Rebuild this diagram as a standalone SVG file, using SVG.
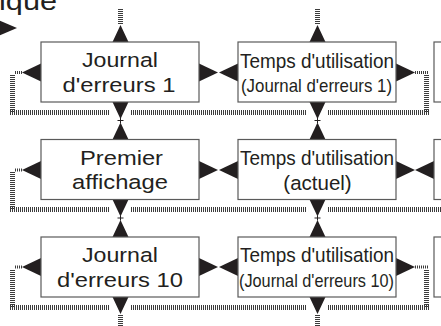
<svg xmlns="http://www.w3.org/2000/svg" width="441" height="326" viewBox="0 0 441 326">
  <style>
    .box{fill:#fff;stroke:#5a5a5a;stroke-width:1.2}
    .lbl{font-family:"Liberation Sans",Arial,sans-serif;fill:#231f20;text-anchor:middle}
    .big{font-size:20.5px}
    .tall{font-size:21px}
    .mid{font-size:19px}
    .head{fill:#231f20}
    .dots{fill:none;stroke:#3c3c3c;stroke-width:5;stroke-dasharray:1 1}
    .lead{fill:none;stroke:#3c3c3c;stroke-width:3;stroke-dasharray:1 1}
    .thin{fill:none;stroke:#231f20;stroke-width:1}
  </style>
  <defs>
    <!-- arrowheads: base at origin -->
    <path id="hr" class="head" d="M0,-9 L19,0 L0,9Z"/>
    <path id="hl" class="head" d="M0,-9 L-19,0 L0,9Z"/>
    <path id="vu" class="head" d="M-8,0 L0,-17 L8,0Z"/>
    <path id="vd" class="head" d="M-8,0 L0,17 L8,0Z"/>
  </defs>

  <!-- header fragment -->
  <g id="header">
    <text class="lbl" x="28" y="10" font-size="25" textLength="58" lengthAdjust="spacingAndGlyphs">ique</text>
    <path class="head" d="M-2,20 L17,28 L-2,36Z"/>
  </g>

  <!-- connectors -->
  <g id="connectors">
    <!-- top inputs -->
    <path class="dots" d="M120.5,9 V25 M317.5,9 V25"/>
    <use href="#vu" x="120.5" y="42"/>
    <use href="#vu" x="317.5" y="42"/>

    <!-- row 1 horizontal links -->
    <use href="#hr" x="199" y="72.5"/>
    <use href="#hl" x="238" y="72.5"/>
    <use href="#hl" x="41" y="72.5"/>
    <use href="#hr" x="396" y="72.5"/>
    <!-- row 1 wrap loop -->
    <path class="lead" d="M15,72.5 H22 M415,72.5 H428"/>
    <path class="dots" d="M12.5,75 V112 M426.5,75 V112"/>
    <path class="dots" d="M10,112.5 H110 M131,112.5 H307 M328,112.5 H429"/>

    <!-- row 1 to row 2 -->
    <use href="#vd" x="120.5" y="102"/>
    <use href="#vu" x="120.5" y="139.5"/>
    <use href="#vd" x="317.5" y="102"/>
    <use href="#vu" x="317.5" y="139.5"/>
    <path class="thin" d="M120.5,118 V123 M117.5,120.5 H123.5 M317.5,118 V123 M314.5,120.5 H320.5"/>

    <!-- row 2 horizontal links -->
    <use href="#hr" x="199" y="170"/>
    <use href="#hl" x="238" y="170"/>
    <use href="#hl" x="41" y="170"/>
    <use href="#hr" x="396" y="170"/>
    <use href="#hl" x="434" y="170"/>
    <path class="lead" d="M15,170 H22"/>
    <path class="dots" d="M12.5,172 V209"/>
    <path class="dots" d="M10,209.5 H110 M131,209.5 H307 M328,209.5 H441"/>

    <!-- row 2 to row 3 -->
    <use href="#vd" x="120.5" y="199.5"/>
    <use href="#vu" x="120.5" y="237"/>
    <use href="#vd" x="317.5" y="199.5"/>
    <use href="#vu" x="317.5" y="237"/>
    <path class="thin" d="M120.5,215.5 V220.5 M117.5,218 H123.5 M317.5,215.5 V220.5 M314.5,218 H320.5"/>

    <!-- row 3 horizontal links -->
    <use href="#hr" x="199" y="267"/>
    <use href="#hl" x="238" y="267"/>
    <use href="#hl" x="41" y="267"/>
    <use href="#hr" x="396" y="267"/>
    <path class="lead" d="M15,267 H22 M415,267 H428"/>
    <path class="dots" d="M12.5,270 V307 M426.5,270 V307"/>
    <path class="dots" d="M10,307.5 H110 M131,307.5 H307 M328,307.5 H429"/>

    <!-- bottom outputs -->
    <use href="#vd" x="120.5" y="297"/>
    <use href="#vd" x="317.5" y="297"/>
    <path class="dots" d="M120.5,315 V326 M317.5,315 V326"/>
  </g>

  <!-- row 1 -->
  <g id="journal-1">
    <rect class="box" x="41" y="42" width="158" height="60"/>
    <text class="lbl big" x="120" y="67" textLength="76" lengthAdjust="spacingAndGlyphs">Journal</text>
    <text class="lbl big" x="119" y="92" textLength="113" lengthAdjust="spacingAndGlyphs">d'erreurs 1</text>
  </g>
  <g id="temps-journal-1">
    <rect class="box" x="238" y="42" width="158" height="60"/>
    <text class="lbl tall" x="317" y="68" textLength="154" lengthAdjust="spacingAndGlyphs">Temps d'utilisation</text>
    <text class="lbl mid" x="316.5" y="92" textLength="151" lengthAdjust="spacingAndGlyphs">(Journal d'erreurs 1)</text>
  </g>
  <g id="next-1">
    <rect class="box" x="434" y="42" width="20" height="60"/>
  </g>

  <!-- row 2 -->
  <g id="premier-affichage">
    <rect class="box" x="41" y="139.5" width="158" height="60"/>
    <text class="lbl big" x="121.5" y="165" textLength="83" lengthAdjust="spacingAndGlyphs">Premier</text>
    <text class="lbl big" x="120" y="189" textLength="96" lengthAdjust="spacingAndGlyphs">affichage</text>
  </g>
  <g id="temps-actuel">
    <rect class="box" x="238" y="139.5" width="158" height="60"/>
    <text class="lbl tall" x="317" y="165" textLength="154" lengthAdjust="spacingAndGlyphs">Temps d'utilisation</text>
    <text class="lbl big" x="317.5" y="190">(actuel)</text>
  </g>
  <g id="next-2">
    <rect class="box" x="434" y="139.5" width="20" height="60"/>
  </g>

  <!-- row 3 -->
  <g id="journal-10">
    <rect class="box" x="41" y="237" width="158" height="60"/>
    <text class="lbl big" x="120" y="262" textLength="76" lengthAdjust="spacingAndGlyphs">Journal</text>
    <text class="lbl big" x="120" y="287" textLength="126" lengthAdjust="spacingAndGlyphs">d'erreurs 10</text>
  </g>
  <g id="temps-journal-10">
    <rect class="box" x="238" y="237" width="158" height="60"/>
    <text class="lbl tall" x="317" y="262" textLength="154" lengthAdjust="spacingAndGlyphs">Temps d'utilisation</text>
    <text class="lbl mid" x="316.5" y="287" textLength="155" lengthAdjust="spacingAndGlyphs">(Journal d'erreurs 10)</text>
  </g>
  <g id="next-3">
    <rect class="box" x="434" y="237" width="20" height="60"/>
  </g>
</svg>
